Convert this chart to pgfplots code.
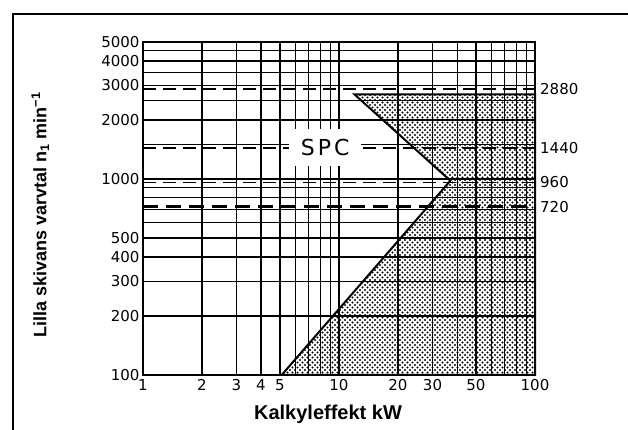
\documentclass[border=0pt]{standalone}
\usepackage{fontspec}
\setmainfont{Liberation Sans}
\newfontfamily\tickfont{DejaVu Sans}
\usepackage{pgfplots}
\pgfplotsset{compat=1.18}
\usetikzlibrary{patterns}

% dot raster for the SPC area
\pgfdeclarepatternformonly{rasterdots}{\pgfqpoint{-1.5pt}{-1.5pt}}{\pgfqpoint{6.5pt}{6.5pt}}{\pgfqpoint{5pt}{5pt}}{%
  \pgfpathcircle{\pgfqpoint{0pt}{0pt}}{1.1pt}
  \pgfpathcircle{\pgfqpoint{2.5pt}{2.5pt}}{1.1pt}
  \pgfusepath{fill}}

\begin{document}
\begin{tikzpicture}[x=1pt,y=1pt]
\useasboundingbox (-143,-55) rectangle (485,375);
\begin{axis}[
    at={(0pt,0pt)}, anchor=south west,
    scale only axis,
    width=392pt, height=333pt,
    xmode=log, ymode=log,
    xmin=1, xmax=100, ymin=100, ymax=5000,
    xtick={1,2,3,4,5,10,20,30,50,100},
    xticklabels={1,2,3,4,5,10,20,30,50,100},
    minor xtick={6,7,8,9,40,60,70,80,90},
    ytick={100,200,300,400,500,1000,2000,3000,4000,5000},
    yticklabels={100,200,300,400,500,1000,2000,3000,4000,5000},
    minor ytick={600,700,800,900,1500,2500,3500,4500},
    grid=both,
    major grid style={black, line width=1.1pt},
    minor grid style={black, line width=1pt},
    axis line style={line width=2.5pt},
    major tick length=0pt, minor tick length=0pt,
    ticklabel style={font=\tickfont\fontsize{15}{15}\selectfont},
    xticklabel style={yshift=-1pt},
    xlabel={Kalkyleffekt kW},
    ylabel={Lilla skivans varvtal n\textsubscript{1} min\textsuperscript{−1}},
    xlabel style={at={(axis description cs:0.472,-0.117)}, anchor=center,
        font=\bfseries\fontsize{20}{20}\selectfont},
    ylabel style={at={(axis description cs:-0.262,0.48)}, anchor=center,
        font=\bfseries\fontsize{18}{18}\selectfont},
    clip=false,
]
% shaded SPC area
\addplot[draw=black, line width=2pt, pattern=rasterdots, pattern color=black]
    coordinates {(5.1,100) (37,980) (12,2700) (100,2700) (100,100)} -- cycle;
% motor speeds
\addplot[black, line width=1.5pt, dash pattern=on 13pt off 7pt] coordinates {(1,2880) (100,2880)};
\addplot[black, line width=1.5pt, dash pattern=on 13pt off 7pt] coordinates {(1,1440) (100,1440)};
\addplot[black, line width=1.5pt, dash pattern=on 13pt off 7pt] coordinates {(1,960) (100,960)};
\addplot[black, line width=3pt, dash pattern=on 15pt off 8pt] coordinates {(1,720) (100,720)};

\node[fill=white, minimum width=72pt, minimum height=37pt, inner sep=0pt,
      font=\tickfont\fontsize{22}{22}\selectfont]
    at (axis cs:8.5,1440) {S\hspace{3pt}P\hspace{3pt}C};
\node[anchor=west, font=\tickfont\fontsize{15}{15}\selectfont, inner sep=0pt, xshift=5pt]
    at (axis cs:100,2880) {2880};
\node[anchor=west, font=\tickfont\fontsize{15}{15}\selectfont, inner sep=0pt, xshift=5pt]
    at (axis cs:100,1440) {1440};
\node[anchor=west, font=\tickfont\fontsize{15}{15}\selectfont, inner sep=0pt, xshift=5pt]
    at (axis cs:100,960) {960};
\node[anchor=west, font=\tickfont\fontsize{15}{15}\selectfont, inner sep=0pt, xshift=5pt]
    at (axis cs:100,720) {720};
\end{axis}
\draw[line width=2pt] (-130,-60) -- (-130,361) -- (490,361);
\end{tikzpicture}
\end{document}
